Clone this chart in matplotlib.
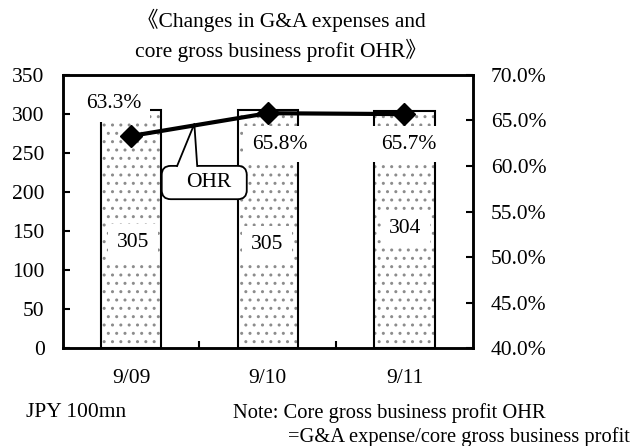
import matplotlib
matplotlib.use("Agg")
import matplotlib.pyplot as plt
import numpy as np
from matplotlib.patches import FancyBboxPatch, Polygon

plt.rcParams['font.family'] = ['Liberation Serif', 'Noto Sans CJK JP']
plt.rcParams['hatch.linewidth'] = 1.0

# data
periods = ["9/09", "9/10", "9/11"]
expenses = [305, 305, 304]
ohr = [63.3, 65.8, 65.7]
left_ticks = [0, 50, 100, 150, 200, 250, 300, 350]
right_ticks = [40, 45, 50, 55, 60, 65, 70]

fs = 15.5

fig = plt.figure(figsize=(6.33, 4.46), dpi=100)
ax = fig.add_axes([0.099, 0.219, 0.648, 0.613])
ax2 = ax.twinx()

x = np.arange(len(periods))
# dotted fill, then black outline on top
ax.bar(x, expenses, width=0.44, color="white", hatch="..", edgecolor="#8c8c8c",
       linewidth=0, zorder=1)
ax.bar(x, expenses, width=0.44, color="none", edgecolor="black", linewidth=1.5, zorder=2)

ax.set_xlim(-0.5, 2.5)
ax.set_ylim(0, 350)
ax.set_yticks(left_ticks)
ax.set_yticklabels([str(t) for t in left_ticks], fontsize=fs)
ax.set_xticks(x)
ax.set_xticklabels(periods, fontsize=fs)
ax.set_xticks([0.5, 1.5], minor=True)
ax.tick_params(axis="x", which="major", length=0, pad=15)
ax.tick_params(axis="x", which="minor", direction="in", length=5, width=1.5)
ax.tick_params(axis="y", direction="in", length=5, width=1.5, pad=13)

for s in ax.spines.values():
    s.set_linewidth(1.8)

# bar value labels (white boxes)
bar_offsets = [(2, -13), (-1, -15), (1, 1)]
for i, v in enumerate(expenses):
    ax.annotate(str(v), (x[i], v / 2), xytext=bar_offsets[i], textcoords="offset pixels",
                ha="center", va="center", fontsize=fs, zorder=5,
                bbox=dict(boxstyle="square,pad=0.4", fc="white", ec="none"))

# OHR line
ax2.set_ylim(40, 70)
ax2.set_yticks(right_ticks)
ax2.set_yticklabels([f"{t:.1f}%" for t in right_ticks], fontsize=fs)
ax2.tick_params(axis="y", direction="in", length=5, width=1.5, pad=13)
for s in ax2.spines.values():
    s.set_linewidth(1.8)

pct_offsets = [(-17, 32), (12, -31), (4, -30)]
for i, v in enumerate(ohr):
    ax2.annotate(f"{v:.1f}%", (x[i], v), xytext=pct_offsets[i], textcoords="offset pixels",
                 ha="center", va="center", fontsize=fs, zorder=4,
                 bbox=dict(boxstyle="square,pad=0.4", fc="white", ec="none"))

# OHR callout
box = FancyBboxPatch((0.2415, 0.5455), 0.2073, 0.1218, transform=ax2.transAxes,
                     boxstyle="round,pad=0,rounding_size=0.022", mutation_aspect=1.5,
                     fc="white", ec="black", lw=1.3, zorder=7, clip_on=False)
ax2.add_patch(box)
tail = Polygon([(0.279, 0.662), (0.321, 0.821), (0.328, 0.662)], closed=True,
               transform=ax2.transAxes, fc="white", ec="none", zorder=8)
ax2.add_patch(tail)
ax2.plot([0.279, 0.321, 0.328], [0.667, 0.821, 0.667], transform=ax2.transAxes,
         color="black", lw=1.3, zorder=8)
ax2.text(0.355, 0.606, "OHR", transform=ax2.transAxes, ha="center", va="center",
         fontsize=fs, zorder=9)
ax2.plot(x, ohr, color="black", linewidth=3, marker="D", markersize=11, zorder=10)

# titles and notes
fig.text(281 / 633, 1 - 20.7 / 446, "《Changes in G&A expenses and", ha="center", va="center",
         fontsize=fs)
fig.text(281 / 633, 1 - 50 / 446, "core gross business profit OHR》", ha="center", va="center",
         fontsize=fs)
fig.text(26 / 633, 1 - 412.7 / 446, "JPY 100mn", ha="left", va="center", fontsize=fs)
fig.text(232.7 / 633, 1 - 412.7 / 446, "Note: Core gross business profit OHR", ha="left",
         va="center", fontsize=14.8)
fig.text(630 / 633, 1 - 437 / 446, "=G&A expense/core gross business profit", ha="right",
         va="center", fontsize=14.8)

fig.savefig("out.png", dpi=100)
